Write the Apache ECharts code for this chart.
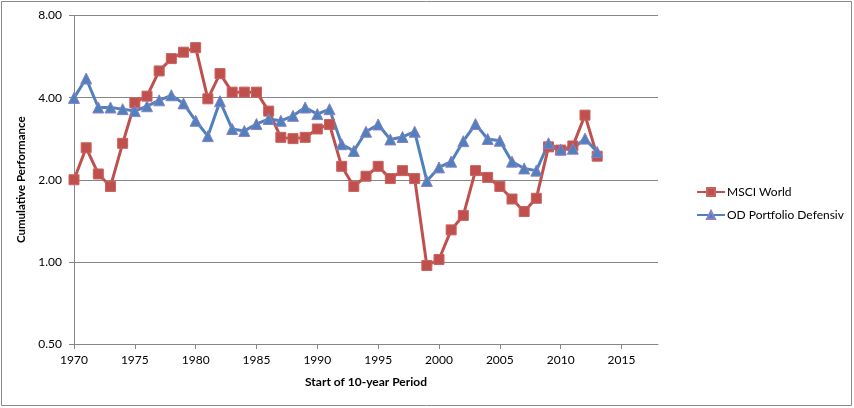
<!DOCTYPE html>
<html><head><meta charset="utf-8">
<script src="https://cdn.jsdelivr.net/npm/echarts@6/dist/echarts.min.js"></script>
<style>html,body{margin:0;padding:0;background:#fff}#c{width:854px;height:408px}</style>
</head><body><div id="c"></div>
<script>
const years = [1970,1971,1972,1973,1974,1975,1976,1977,1978,1979,1980,1981,1982,1983,1984,1985,1986,1987,1988,1989,1990,1991,1992,1993,1994,1995,1996,1997,1998,1999,2000,2001,2002,2003,2004,2005,2006,2007,2008,2009,2010,2011,2012,2013];
const msciWorld = [2.00,2.62,2.10,1.89,2.72,3.83,4.05,5.01,5.56,5.87,6.10,3.96,4.90,4.19,4.19,4.19,3.57,2.86,2.83,2.86,3.07,3.19,2.24,1.89,2.06,2.24,2.02,2.16,2.02,0.97,1.02,1.31,1.48,2.16,2.04,1.89,1.70,1.53,1.71,2.64,2.57,2.66,3.45,2.44];
const odDefensiv = [3.99,4.70,3.68,3.68,3.63,3.57,3.72,3.91,4.08,3.81,3.29,2.89,3.88,3.07,3.02,3.20,3.34,3.29,3.43,3.68,3.48,3.63,2.70,2.55,3.00,3.19,2.81,2.87,3.00,1.98,2.22,2.33,2.77,3.20,2.82,2.78,2.33,2.20,2.16,2.72,2.58,2.60,2.83,2.53];
const xTicks = [1970,1975,1980,1985,1990,1995,2000,2005,2010,2015];
const seriesNames = ['MSCI World','OD Portfolio Defensiv'];

const font = 'Lato, "Open Sans", sans-serif';
const axisGray = '#868686';
const chart = echarts.init(document.getElementById('c'));
chart.setOption({
  animation: false,
  backgroundColor: '#fff',
  textStyle: {fontFamily: font},
  graphic: [{type:'rect', shape:{x:1.5,y:1.5,width:850,height:404}, style:{fill:'none', stroke:'#8a8a8a', lineWidth:1}, silent:true}],
  grid: {left:74, top:15.5, right:196, bottom:64},
  legend: {
    orient:'vertical', left:691, top:181, itemWidth:28, itemHeight:10, itemGap:11,
    textStyle:{fontFamily:font, fontSize:12, color:'#000', padding:[0,0,0,-3]},
    data: seriesNames
  },
  xAxis: {
    type:'value', min:1970, max:2018, interval:5,
    name:'Start of 10-year Period', nameLocation:'middle', nameGap:32,
    nameTextStyle:{fontFamily:font, fontSize:12, fontWeight:'bold', color:'#000'},
    axisLine:{show:true, lineStyle:{color:axisGray, width:1}},
    axisTick:{show:true, inside:false, length:5, lineStyle:{color:axisGray}, customValues:xTicks},
    axisLabel:{fontFamily:font, fontSize:12, color:'#000', margin:10, customValues:xTicks, formatter: v => String(v)},
    splitLine:{show:false}
  },
  yAxis: {
    type:'log', logBase:2, min:0.5, max:8, interval:1,
    name:'Cumulative Performance', nameLocation:'middle', nameGap:45, nameRotate:90,
    nameTextStyle:{fontFamily:font, fontSize:11.5, fontWeight:'bold', color:'#000'},
    axisLine:{show:true, lineStyle:{color:axisGray, width:1}},
    axisTick:{show:true, inside:false, length:5, lineStyle:{color:axisGray}},
    axisLabel:{fontFamily:font, fontSize:12, color:'#000', margin:12, formatter: v => Number(v).toFixed(2)},
    splitLine:{show:true, lineStyle:{color:axisGray, width:1}}
  },
  series: [
    {
      name: seriesNames[0], type:'line',
      data: years.map((y,i)=>[y, msciWorld[i]]),
      symbol:'rect', symbolSize:10, showAllSymbol:true,
      lineStyle:{color:'#C0504D', width:3},
      itemStyle:{color:'#C0504D', borderColor:'#C9625F', borderWidth:1}
    },
    {
      name: seriesNames[1], type:'line',
      data: years.map((y,i)=>[y, odDefensiv[i]]),
      symbol:'triangle', symbolSize:11, showAllSymbol:true,
      lineStyle:{color:'#4F81BD', width:3},
      itemStyle:{color:'#4F81BD', borderColor:'#8C7FC4', borderWidth:1}
    }
  ]
});
</script></body></html>
